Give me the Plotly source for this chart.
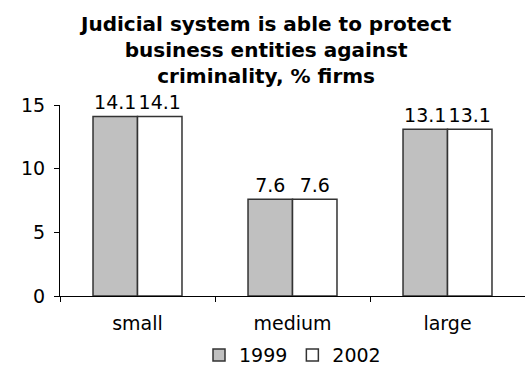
import plotly.graph_objects as go

categories = ["small", "medium", "large"]
series_names = ["1999", "2002"]
values_1999 = [14.1, 7.6, 13.1]
values_2002 = [14.1, 7.6, 13.1]
y_ticks = [0, 5, 10, 15]
title_text = "<b>Judicial system is able to protect<br>business entities against<br>criminality, % firms</b>"

FONT = "DejaVu Sans"
EDGE = "#333333"
SIZE = 19

fig = go.Figure()
for name, vals, color in [(series_names[0], values_1999, "#C0C0C0"),
                          (series_names[1], values_2002, "#FFFFFF")]:
    fig.add_trace(go.Bar(
        x=categories, y=vals, name=name,
        marker=dict(color=color, line=dict(color=EDGE, width=1.5)),
        text=[f"{v:.1f}" for v in vals],
        textposition="outside",
        textfont=dict(family=FONT, size=SIZE, color="#000000"),
        cliponaxis=False,
    ))

fig.add_annotation(
    text=title_text, showarrow=False,
    xref="paper", yref="paper", x=0.443, y=1.497,
    xanchor="center", yanchor="top", align="center",
    font=dict(family=FONT, size=20, color="#000000"),
)

fig.update_layout(
    width=525, height=367,
    margin=dict(l=60, r=0, t=105, b=71, autoexpand=False),
    paper_bgcolor="white", plot_bgcolor="white",
    barmode="group", bargap=0.426, bargroupgap=0,
    font=dict(family=FONT, size=SIZE, color="#000000"),
    showlegend=True,
    legend=dict(
        orientation="h", x=0.5, xanchor="center",
        y=-0.31, yanchor="middle",
        font=dict(family=FONT, size=SIZE),
        itemwidth=30, traceorder="normal",
        borderwidth=0, tracegroupgap=0,
    ),
    xaxis=dict(
        showline=True, linecolor="#000000", linewidth=1,
        ticks="outside", tickson="boundaries", ticklen=5, tickcolor="#000000",
        showgrid=False, tickfont=dict(family=FONT, size=SIZE),
        ticklabelstandoff=10,
    ),
    yaxis=dict(
        range=[0, 15], tickvals=y_ticks,
        showline=True, linecolor="#000000", linewidth=1,
        ticks="outside", ticklen=5, tickcolor="#000000",
        showgrid=False, zeroline=False, tickfont=dict(family=FONT, size=SIZE),
        ticklabelstandoff=5,
    ),
)

fig.write_html("out.html")
